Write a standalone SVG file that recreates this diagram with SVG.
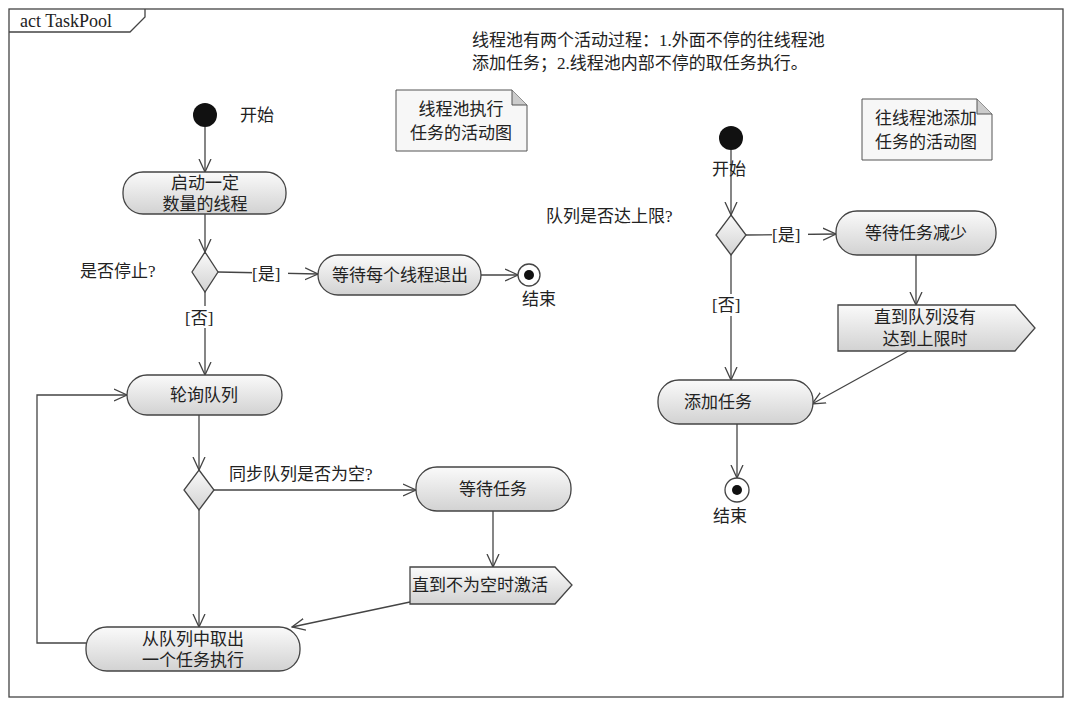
<svg xmlns="http://www.w3.org/2000/svg" width="1071" height="703" viewBox="0 0 1071 703">
<style>
text{font-family:"Liberation Serif","Noto Sans CJK SC",serif;font-size:17px;fill:#222}
.c{text-anchor:middle}
.n{fill:url(#g);stroke:#444;stroke-width:1.3}
.ln{fill:none;stroke:#444;stroke-width:1.3}
.note{fill:#f7f7f7;stroke:#555;stroke-width:1}
.lb{fill:#fff}
</style>
<defs>
<linearGradient id="g" x1="0" y1="0" x2="0" y2="1"><stop offset="0" stop-color="#fafafa"/><stop offset="1" stop-color="#d2d2d2"/></linearGradient>
<marker id="a" viewBox="0 0 14 14" refX="13" refY="7" markerWidth="14" markerHeight="14" markerUnits="userSpaceOnUse" orient="auto"><path d="M0,1 L13,7 L0,13" fill="none" stroke="#444" stroke-width="1.3"/></marker>
</defs>
<rect width="1071" height="703" fill="#fff"/>
<rect x="9" y="9" width="1054" height="688" fill="none" stroke="#444" stroke-width="1.3"/>
<path d="M9,32 H130 L145,17 V9" fill="none" stroke="#444" stroke-width="1.3"/>
<text x="20" y="27" style="font-size:18px">act TaskPool</text>
<text x="472" y="46">线程池有两个活动过程：1.外面不停的往线程池</text>
<text x="472" y="69">添加任务；2.线程池内部不停的取任务执行。</text>
<g id="connectors">
<line class="ln" x1="205" y1="127" x2="205" y2="172" marker-end="url(#a)"/>
<line class="ln" x1="205" y1="214" x2="205" y2="252" marker-end="url(#a)"/>
<line class="ln" x1="218" y1="272" x2="318" y2="274" marker-end="url(#a)"/>
<line class="ln" x1="481" y1="275" x2="518" y2="275" marker-end="url(#a)"/>
<line class="ln" x1="205" y1="292" x2="205" y2="375" marker-end="url(#a)"/>
<line class="ln" x1="199" y1="415" x2="199" y2="470" marker-end="url(#a)"/>
<line class="ln" x1="214" y1="490" x2="416" y2="490" marker-end="url(#a)"/>
<line class="ln" x1="493" y1="511" x2="493" y2="567" marker-end="url(#a)"/>
<line class="ln" x1="410" y1="602" x2="292" y2="627" marker-end="url(#a)"/>
<line class="ln" x1="199" y1="510" x2="199" y2="627" marker-end="url(#a)"/>
<polyline class="ln" points="86,643 37,643 37,395 127,395" marker-end="url(#a)"/>
<line class="ln" x1="731" y1="150" x2="731" y2="215" marker-end="url(#a)"/>
<line class="ln" x1="746" y1="235" x2="836" y2="234" marker-end="url(#a)"/>
<line class="ln" x1="916" y1="255" x2="916" y2="305" marker-end="url(#a)"/>
<line class="ln" x1="908" y1="351" x2="812" y2="404" marker-end="url(#a)"/>
<line class="ln" x1="731" y1="255" x2="731" y2="380" marker-end="url(#a)"/>
<line class="ln" x1="737" y1="424" x2="737" y2="478" marker-end="url(#a)"/>
</g>
<rect class="lb" x="252" y="262" width="36" height="22"/>
<text x="252" y="280">[是]</text>
<rect class="lb" x="185" y="306" width="38" height="22"/>
<text x="185" y="324">[否]</text>
<text x="229" y="480">同步队列是否为空?</text>
<rect class="lb" x="772" y="224" width="36" height="22"/>
<text x="772" y="241">[是]</text>
<rect class="lb" x="712" y="294" width="38" height="22"/>
<text x="712" y="311">[否]</text>
<g id="start1"><circle cx="205" cy="115" r="12" fill="#111"/><text x="240" y="121">开始</text></g>
<g id="n1"><rect class="n" x="123" y="172" width="163" height="42" rx="20"/><text class="c" x="205" y="189">启动一定</text><text class="c" x="205" y="210">数量的线程</text></g>
<g id="d1"><polygon class="n" points="205,252 218,272 205,292 192,272"/><text x="80" y="277">是否停止?</text></g>
<g id="n2"><rect class="n" x="318" y="255" width="163" height="40" rx="20"/><text class="c" x="400" y="281">等待每个线程退出</text></g>
<g id="end1"><circle cx="529" cy="275" r="11" fill="#fff" stroke="#444" stroke-width="1.3"/><circle cx="529" cy="275" r="5" fill="#111"/><text x="522" y="305">结束</text></g>
<g id="n3"><rect class="n" x="127" y="375" width="155" height="40" rx="20"/><text class="c" x="204" y="401">轮询队列</text></g>
<g id="d2"><polygon class="n" points="199,470 214,490 199,510 184,490"/></g>
<g id="n4"><rect class="n" x="416" y="467" width="155" height="44" rx="21"/><text class="c" x="493" y="495">等待任务</text></g>
<g id="s1"><polygon class="n" points="410,567 555,567 572,585 555,604 410,604"/><text x="412" y="591">直到不为空时激活</text></g>
<g id="n5"><rect class="n" x="86" y="627" width="214" height="44" rx="21"/><text class="c" x="193" y="645">从队列中取出</text><text class="c" x="193" y="666">一个任务执行</text></g>
<g id="note1"><path class="note" d="M396,90 H512 L527,105 V151 H396 Z"/><path d="M512,90 V105 H527" fill="#ccc" stroke="#555"/><text class="c" x="461" y="115">线程池执行</text><text class="c" x="461" y="139">任务的活动图</text></g>
<g id="note2"><path class="note" d="M862,99 H977 L992,114 V160 H862 Z"/><path d="M977,99 V114 H992" fill="#ccc" stroke="#555"/><text class="c" x="926" y="124">往线程池添加</text><text class="c" x="926" y="148">任务的活动图</text></g>
<g id="start2"><circle cx="731" cy="138" r="12" fill="#111"/><text x="712" y="175">开始</text></g>
<g id="d3"><polygon class="n" points="731,215 746,235 731,255 716,235"/><text x="546" y="222">队列是否达上限?</text></g>
<g id="n6"><rect class="n" x="836" y="211" width="160" height="44" rx="21"/><text class="c" x="916" y="239">等待任务减少</text></g>
<g id="s2"><polygon class="n" points="838,305 1015,305 1035,328 1015,351 838,351"/><text class="c" x="925" y="323">直到队列没有</text><text class="c" x="925" y="345">达到上限时</text></g>
<g id="n7"><rect class="n" x="658" y="380" width="155" height="44" rx="21"/><text class="c" x="718" y="408">添加任务</text></g>
<g id="end2"><circle cx="737" cy="490" r="12" fill="#fff" stroke="#444" stroke-width="1.3"/><circle cx="737" cy="490" r="5" fill="#111"/><text x="713" y="522">结束</text></g>
</svg>
